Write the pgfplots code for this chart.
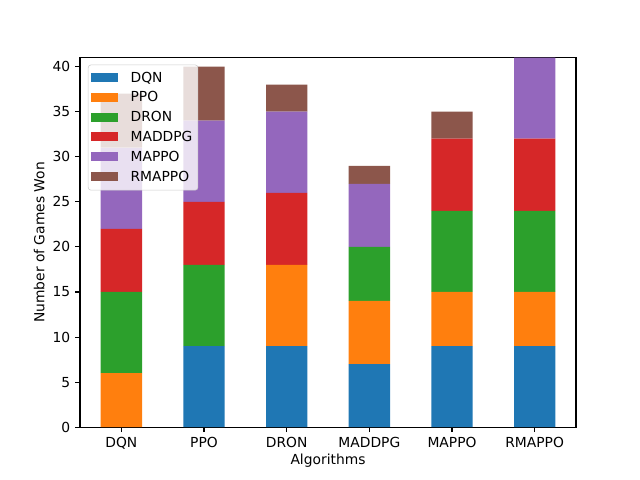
\documentclass[border=0pt]{standalone}
\usepackage{pgfplots}
\pgfplotsset{compat=1.18}
\usepackage{fontspec}
\setmainfont{DejaVu Sans}
\definecolor{c1}{HTML}{1F77B4}
\definecolor{c2}{HTML}{FF7F0E}
\definecolor{c3}{HTML}{2CA02C}
\definecolor{c4}{HTML}{D62728}
\definecolor{c5}{HTML}{9467BD}
\definecolor{c6}{HTML}{8C564B}
\newcommand{\legtxt}[1]{\hspace*{7pt}#1}
\begin{document}
\begin{tikzpicture}[x=1in,y=1in]
\path[use as bounding box] (0,0) rectangle (6.4,4.8);
\begin{axis}[
  at={(0.8in,0.528in)}, anchor=south west,
  scale only axis, width=4.96in, height=3.696in,
  ybar stacked, bar width=0.5,
  xmin=-0.5, xmax=5.5, ymin=0, ymax=41,
  xtick={0,1,2,3,4,5},
  xticklabels={DQN,PPO,DRON,MADDPG,MAPPO,RMAPPO},
  ytick={0,5,10,15,20,25,30,35,40},
  tick align=outside, tick pos=left,
  major tick length=3.5pt,
  tick style={black, line width=0.8pt},
  axis line style={line width=0.8pt},
  /pgf/number format/assume math mode=true,
  tick label style={font=\fontsize{10}{12}\selectfont},
  label style={font=\fontsize{10}{12}\selectfont},
  xlabel={Algorithms}, ylabel={Number of Games Won},
  xlabel style={yshift=3pt},
  ylabel style={yshift=-1pt},
  clip=true,
  legend cell align=left,
  legend style={at={(axis description cs:0.016,0.981)}, anchor=north west,
    draw=black!20, rounded corners=2pt, fill opacity=0.8, text opacity=1,
    font=\fontsize{10}{12}\selectfont, row sep=1.4pt, inner xsep=2pt, inner ysep=3pt},
  every axis plot/.append style={draw=none},
  every axis plot post/.append style={legend image code/.code={%
    \fill[sharp corners,fill opacity=1] (0cm,-0.1cm) rectangle (0.69cm,0.13cm);}},
]
\addplot[fill=c1] coordinates {(0,0) (1,9) (2,9) (3,7) (4,9) (5,9)};
\addplot[fill=c2] coordinates {(0,6) (1,0) (2,9) (3,7) (4,6) (5,6)};
\addplot[fill=c3] coordinates {(0,9) (1,9) (2,0) (3,6) (4,9) (5,9)};
\addplot[fill=c4] coordinates {(0,7) (1,7) (2,8) (3,0) (4,8) (5,8)};
\addplot[fill=c5] coordinates {(0,9) (1,9) (2,9) (3,7) (4,0) (5,9)};
\addplot[fill=c6] coordinates {(0,6) (1,6) (2,3) (3,2) (4,3) (5,0)};
\legend{\legtxt{DQN},\legtxt{PPO},\legtxt{DRON},\legtxt{MADDPG},\legtxt{MAPPO},\legtxt{RMAPPO}}
\end{axis}
\end{tikzpicture}
\end{document}
